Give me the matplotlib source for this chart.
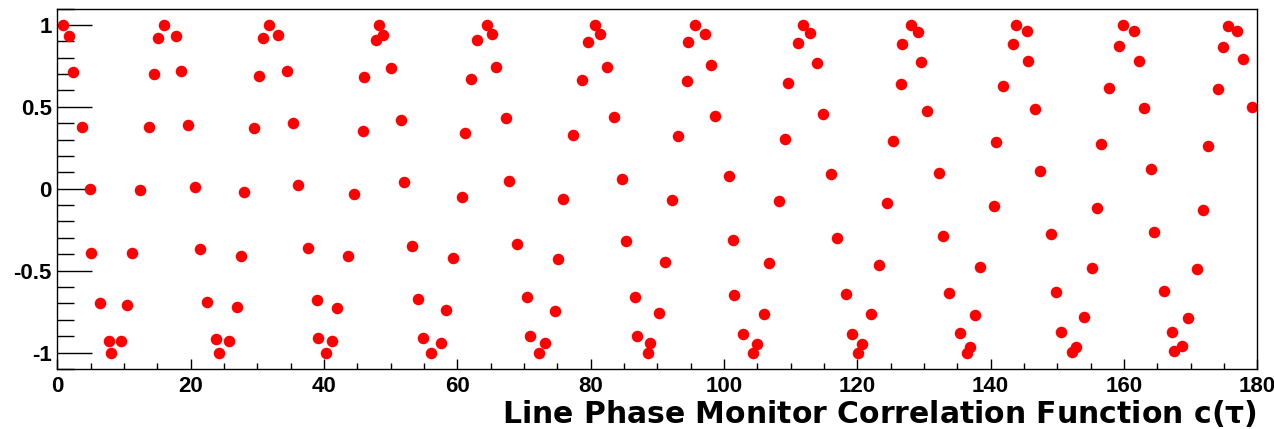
import matplotlib
matplotlib.use("Agg")
import matplotlib.pyplot as plt
from matplotlib.ticker import MultipleLocator, FixedLocator

plt.rcParams['font.family'] = ['Liberation Sans', 'DejaVu Sans']
plt.rcParams['font.weight'] = 'bold'

# lag (x) and correlation value (y)
tau = [0.8, 1.8, 2.4, 3.75, 4.9, 5.1, 6.4, 7.8, 8.0, 9.55, 10.45, 11.15, 12.45, 13.75, 14.5, 15.1, 16.0,
       17.75, 18.5, 19.6, 20.65, 21.35, 22.5, 23.85, 24.2, 25.8, 26.95, 27.55, 28.05, 29.55, 30.2, 30.9, 31.8,
       33.15, 34.45, 35.3, 36.05, 37.6, 38.95, 39.15, 40.25, 41.15, 42.0, 43.55, 44.45, 45.8, 46.05, 47.75, 48.25, 48.8,
       50.05, 51.55, 51.95, 53.15, 54.05, 54.9, 56.0, 57.55, 58.3, 59.35, 60.7, 61.2, 62.0, 62.9, 64.4, 65.2,
       65.8, 67.3, 67.8, 68.9, 70.5, 70.9, 72.2, 73.2, 74.7, 75.1, 75.8, 77.4, 78.7, 79.55, 80.65, 81.45,
       82.4, 83.55, 84.65, 85.3, 86.65, 87.0, 88.65, 88.9, 90.2, 91.15, 92.2, 93.1, 94.45, 94.65, 95.65, 97.15, 98.05,
       98.65, 100.7, 101.3, 101.55, 102.9, 104.4, 105.0, 106.0, 106.7, 108.25, 109.2, 109.55, 111.1, 111.8, 112.9, 114.0, 114.8,
       116.05, 116.9, 118.25, 119.15, 120.05, 120.65, 122.0, 123.3, 124.5, 125.4, 126.5, 126.7, 128.0, 129.15, 129.55, 130.45,
       132.3, 132.9, 133.8, 135.4, 136.5, 136.9, 137.6, 138.45, 140.45, 140.75, 141.8, 143.35, 143.8, 145.4, 145.55, 146.7, 147.45,
       149.0, 149.8, 150.5, 152.15, 152.8, 154.0, 155.15, 155.9, 156.5, 157.8, 159.2, 159.8, 161.45, 162.25, 163.0, 164.05,
       164.5, 166.0, 167.15, 167.5, 168.75, 169.65, 171.0, 171.8, 172.55, 174.05, 174.9, 175.65, 177.0, 177.9, 179.25]
corr = [1.0, 0.93, 0.71, 0.38, 0.0, -0.39, -0.70, -0.93, -1.0, -0.93, -0.71, -0.39, -0.01, 0.38, 0.70, 0.92, 1.0,
        0.93, 0.72, 0.39, 0.01, -0.37, -0.69, -0.92, -1.0, -0.93, -0.72, -0.41, -0.02, 0.37, 0.69, 0.92, 1.0,
        0.94, 0.72, 0.40, 0.02, -0.36, -0.68, -0.91, -1.0, -0.93, -0.73, -0.41, -0.03, 0.35, 0.68, 0.91, 1.0, 0.94,
        0.735, 0.42, 0.04, -0.35, -0.675, -0.91, -1.0, -0.94, -0.74, -0.42, -0.05, 0.34, 0.67, 0.91, 1.0, 0.945,
        0.745, 0.43, 0.05, -0.34, -0.66, -0.90, -1.0, -0.944, -0.747, -0.43, -0.063, 0.328, 0.664, 0.898, 1.0, 0.945,
        0.745, 0.44, 0.06, -0.32, -0.663, -0.899, -1.0, -0.944, -0.757, -0.449, -0.069, 0.322, 0.658, 0.898, 1.0, 0.945, 0.756,
        0.444, 0.078, -0.313, -0.649, -0.889, -1.0, -0.95, -0.765, -0.455, -0.075, 0.304, 0.648, 0.892, 1.0, 0.953, 0.766, 0.456,
        0.088, -0.303, -0.645, -0.887, -1.0, -0.95, -0.765, -0.466, -0.085, 0.294, 0.638, 0.884, 1.0, 0.955, 0.776, 0.477,
        0.094, -0.286, -0.639, -0.879, -1.0, -0.964, -0.773, -0.476, -0.105, 0.283, 0.627, 0.882, 1.0, 0.963, 0.78, 0.485, 0.11,
        -0.276, -0.628, -0.873, -0.995, -0.964, -0.781, -0.482, -0.116, 0.273, 0.617, 0.874, 1.0, 0.963, 0.782, 0.495, 0.121,
        -0.266, -0.622, -0.873, -0.989, -0.96, -0.791, -0.492, -0.13, 0.261, 0.609, 0.864, 0.994, 0.963, 0.79, 0.501]

ytick_vals = [-1, -0.5, 0, 0.5, 1]
ytick_text = ['-1', '-0.5', '0', '0.5', '1']
xtick_vals = [0, 20, 40, 60, 80, 100, 120, 140, 160, 180]

fig = plt.figure(figsize=(12.74, 4.29), dpi=100)
ax = fig.add_axes([0.045, 0.1401, 0.9419, 0.8399])
ax.plot(tau, corr, 'o', color='#ff0000', markersize=8.3, markeredgewidth=0)

ax.set_xlim(0, 180)
ax.set_ylim(-1.1, 1.1)
ax.xaxis.set_major_locator(FixedLocator(xtick_vals))
ax.xaxis.set_minor_locator(MultipleLocator(5))
ax.yaxis.set_major_locator(FixedLocator(ytick_vals))
ax.set_yticklabels(ytick_text)
ax.yaxis.set_minor_locator(MultipleLocator(0.1))

ax.tick_params(axis='both', which='both', direction='in', top=False, right=False,
               width=1.0, color='black', labelsize=16)
ax.tick_params(axis='y', which='major', length=25, pad=4)
ax.tick_params(axis='y', which='minor', length=12)
ax.tick_params(axis='x', which='major', length=7, pad=5)
ax.tick_params(axis='x', which='minor', length=4.3)
for s in ax.spines.values():
    s.set_linewidth(1.0)

# wider face for the axis title, like the original
ax.set_xlabel(r'Line Phase Monitor Correlation Function c($\mathbf{\tau}$)', fontsize=21.5,
              fontweight='bold', family=['DejaVu Sans'], loc='right', labelpad=1)

fig.savefig('out.png', dpi=100)
